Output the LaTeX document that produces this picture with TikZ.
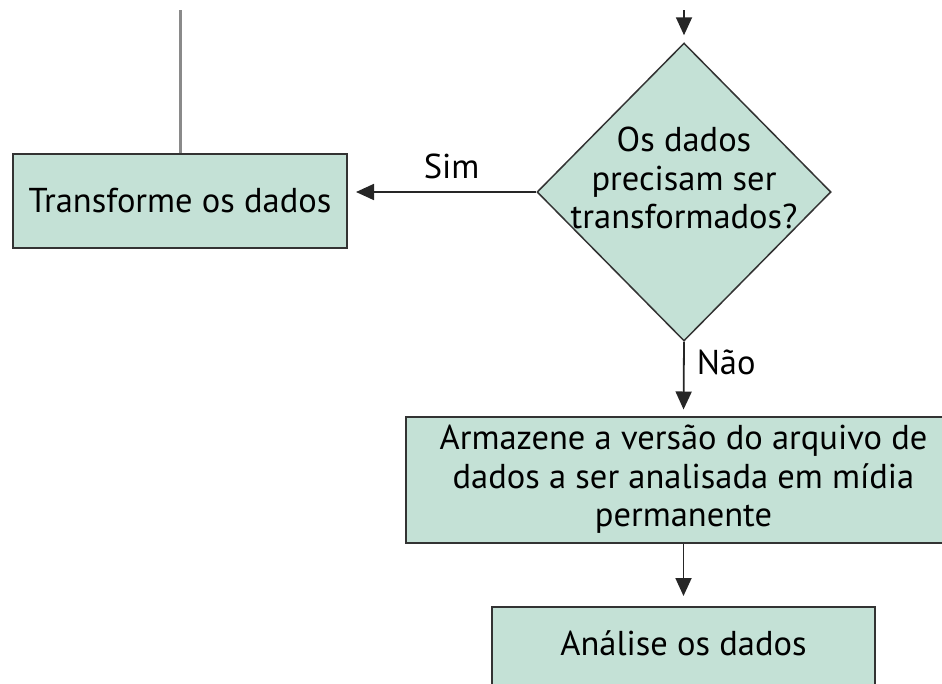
\documentclass[tikz,border=0pt]{standalone}
\usepackage{fontspec}
\setmainfont{PT Sans}
\usetikzlibrary{shapes.geometric, arrows.meta, positioning, calc}

\definecolor{boxfill}{HTML}{C4E1D6}
\definecolor{boxline}{HTML}{333333}
\definecolor{trunkline}{HTML}{8A8A8A}

\tikzset{
  procbox/.style={draw=boxline, line width=2pt, fill=boxfill, inner sep=0pt, align=center},
  decision/.style={diamond, draw=boxline, line width=1.5pt, fill=boxfill, inner sep=0pt,
    minimum width=294pt, minimum height=298pt},
  flow/.style={-{Triangle[length=18pt,width=16pt]}, line width=1.8pt, draw=black!85},
  edgelabel/.style={inner sep=2pt},
}

\begin{document}
\begin{tikzpicture}[x=1pt, y=-1pt, font=\fontsize{34.5}{38.5}\selectfont]
  \useasboundingbox (0,0) rectangle (942,683);
  % boxes
  \node[procbox, minimum width=334pt, minimum height=94pt] (transform) at (180,201) {Transforme os dados};
  \node[decision] (check) at (684,192) {};
  \node[align=center] (checktext) at (684,178) {Os dados\\precisam ser\\transformados?};
  \node[procbox, minimum width=556pt, minimum height=126pt] (store) at (683.5,479.5)
    {Armazene a versão do arquivo de\\dados a ser analisada em mídia\\permanente};
  \node[procbox, minimum width=383pt, anchor=north, text height=36pt, text depth=60pt, inner ysep=12pt]
    (analyse) at (683.5,606) {Análise os dados};
  % loose ends at the top
  \coordinate (trunktop) at (180,10);
  \coordinate (flowtop) at (684,10);
  % connectors
  \draw[trunkline, line width=3pt] (trunktop) -- (transform.north);
  \draw[flow, shorten >=7pt] (flowtop) -- (check.north);
  \draw[flow, shorten >=8pt] (check.west) -- (check.west -| transform.east)
    node[edgelabel, pos=0.45, above=10pt] {Sim};
  \draw[flow, shorten >=6pt] (check.south) -- (store.north)
    node[edgelabel, pos=0.28, right=10pt] {Não};
  \draw[flow, shorten >=10pt] (store.south) -- (analyse.north);
\end{tikzpicture}
\end{document}
